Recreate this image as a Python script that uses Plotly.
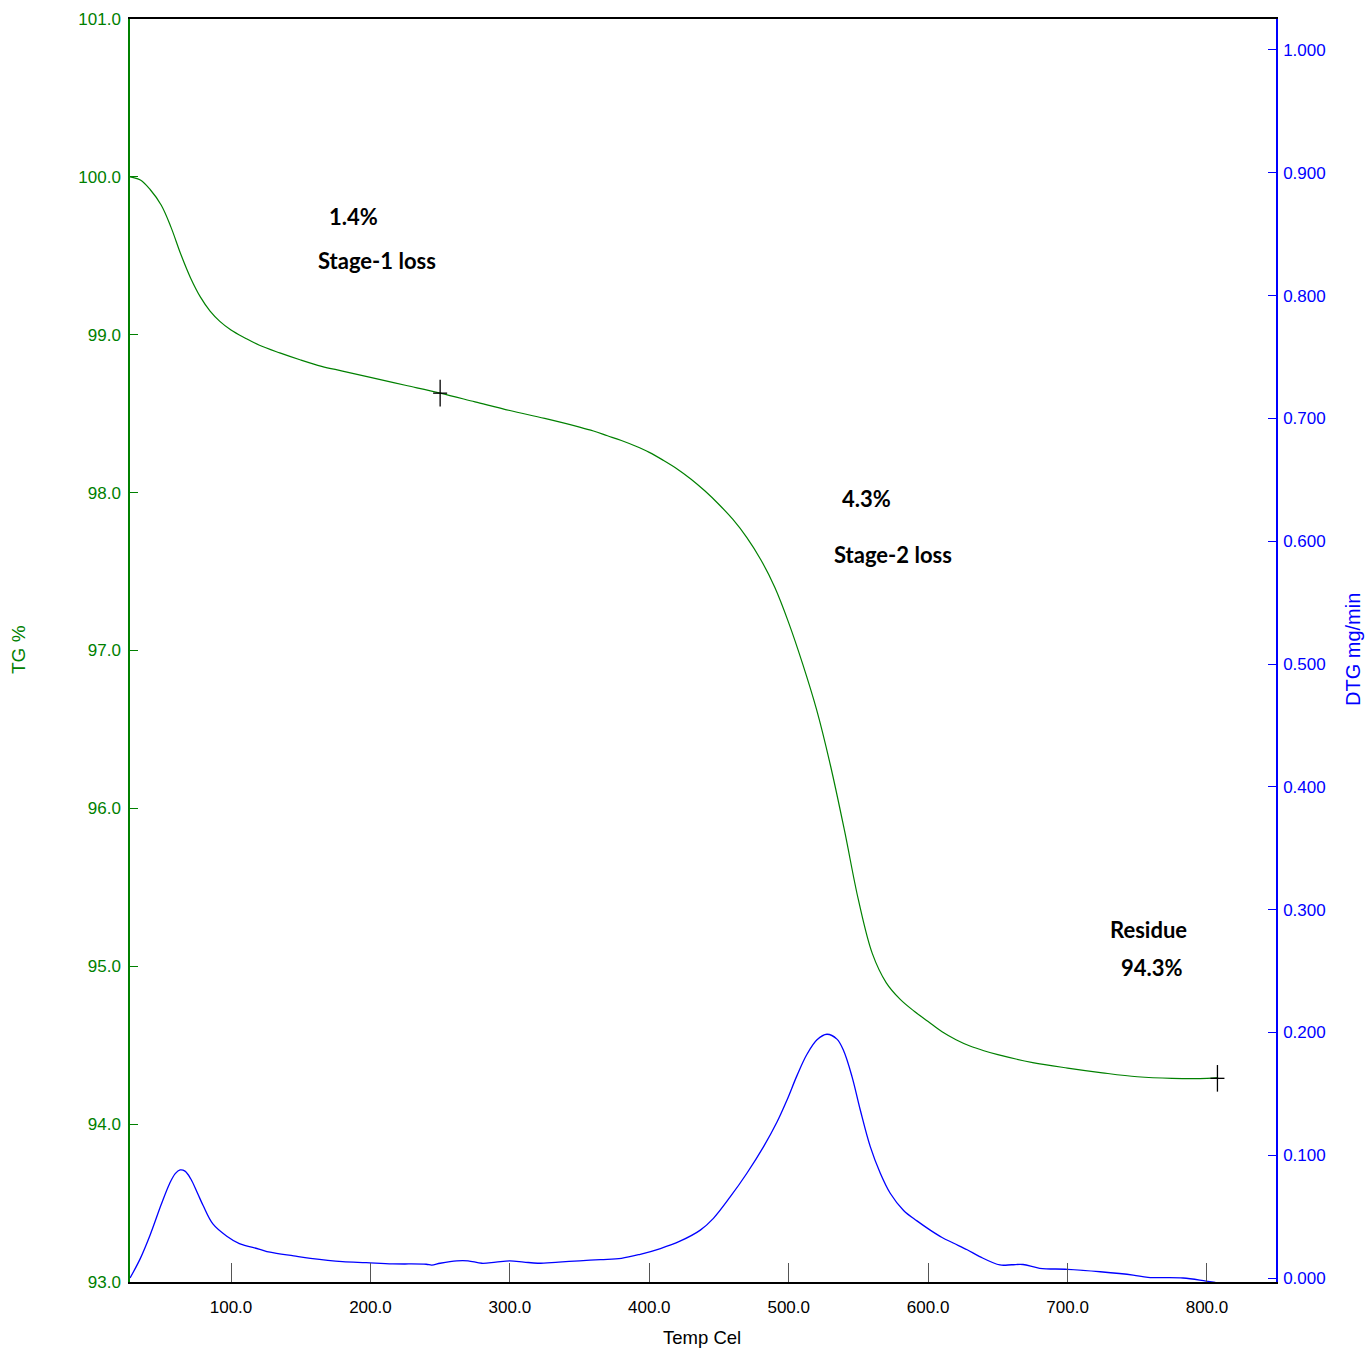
import plotly.graph_objects as go

# ---------------- data ----------------
tg_temp = [27.6, 35, 42, 50, 57, 64, 71, 78, 85, 92, 100, 110, 120, 135, 150, 165, 180, 200,
           225, 250, 275, 300, 325, 350, 360, 370, 380, 390, 400, 410, 420, 430, 440, 450,
           460, 470, 480, 490, 500, 510, 520, 530, 540, 550, 560, 570, 580, 590, 600, 610,
           620, 630, 640, 650, 675, 700, 725, 750, 775, 800, 808]
tg_pct = [100.0, 99.98, 99.92, 99.82, 99.68, 99.51, 99.36, 99.24, 99.15, 99.085, 99.03, 98.98,
          98.935, 98.885, 98.84, 98.80, 98.77, 98.73, 98.68, 98.63, 98.575, 98.52, 98.47, 98.415,
          98.39, 98.36, 98.33, 98.295, 98.255, 98.205, 98.15, 98.085, 98.01, 97.925, 97.83,
          97.715, 97.575, 97.40, 97.175, 96.915, 96.625, 96.27, 95.86, 95.42, 95.08, 94.895,
          94.79, 94.715, 94.65, 94.585, 94.535, 94.495, 94.465, 94.44, 94.39, 94.355, 94.325,
          94.30, 94.29, 94.29, 94.295]

dtg_temp = [27.6, 35, 42, 50, 56, 60, 63.5, 67, 71, 76, 80, 87, 97, 106, 120, 128, 145, 157,
            180, 197, 216, 240, 244, 250, 262, 270, 280, 290, 300, 310, 320, 335, 350, 365,
            380, 393.5, 408, 422, 436.6, 446, 458, 470, 482, 491.6, 498.8, 506, 513, 520.3,
            527.4, 534.6, 539.4, 545.4, 551.3, 558.5, 565.7, 572.8, 582.4, 592, 601.5, 610,
            618, 628, 637, 651.5, 660, 668, 680, 700, 723.5, 747, 757.7, 782.8, 799.3, 806]
dtg_val = [0.0, 0.016, 0.035, 0.060, 0.077, 0.085, 0.088, 0.087, 0.081, 0.069, 0.059, 0.044,
           0.034, 0.028, 0.0236, 0.021, 0.018, 0.016, 0.0133, 0.0125, 0.0115, 0.0112, 0.0105,
           0.012, 0.014, 0.014, 0.012, 0.013, 0.014, 0.013, 0.012, 0.013, 0.014, 0.015, 0.016,
           0.0193, 0.024, 0.030, 0.039, 0.0486, 0.066, 0.0853, 0.107, 0.127, 0.145, 0.165,
           0.182, 0.194, 0.1985, 0.1945, 0.185, 0.164, 0.137, 0.107, 0.0853, 0.069, 0.055,
           0.0465, 0.039, 0.033, 0.0285, 0.023, 0.0174, 0.0106, 0.0108, 0.011, 0.0079, 0.0071,
           0.0051, 0.0024, 0.0005, 0.0, -0.0025, -0.0035]

marker_temp = [250, 807.5]
marker_tg = [98.63, 94.29]

x_ticks = [100, 200, 300, 400, 500, 600, 700, 800]
x_labels = ["100.0", "200.0", "300.0", "400.0", "500.0", "600.0", "700.0", "800.0"]
tg_ticks = [93, 94, 95, 96, 97, 98, 99, 100, 101]
tg_labels = ["93.0", "94.0", "95.0", "96.0", "97.0", "98.0", "99.0", "100.0", "101.0"]
dtg_ticks = [0.0, 0.1, 0.2, 0.3, 0.4, 0.5, 0.6, 0.7, 0.8, 0.9, 1.0]
dtg_labels = ["0.000", "0.100", "0.200", "0.300", "0.400", "0.500", "0.600", "0.700",
              "0.800", "0.900", "1.000"]

notes = [("1.4%", 188.2, 99.752), ("Stage-1 loss", 204.7, 99.473),
         ("4.3%", 556.1, 97.96), ("Stage-2 loss", 574.8, 97.605),
         ("Residue", 758.4, 95.23), ("94.3%", 760.6, 94.995)]

GREEN = "#008000"
BLUE = "#0000FF"
ARIAL = "Liberation Sans, Arial, sans-serif"
BOLDF = "Lato, Liberation Sans, sans-serif"

fig = go.Figure()
fig.add_trace(go.Scatter(x=tg_temp, y=tg_pct, mode="lines", line=dict(color=GREEN, width=1.2),
                         line_shape="spline", showlegend=False, yaxis="y"))
fig.add_trace(go.Scatter(x=dtg_temp, y=dtg_val, mode="lines", line=dict(color=BLUE, width=1.3),
                         line_shape="spline", showlegend=False, yaxis="y2"))
fig.add_trace(go.Scatter(x=marker_temp, y=marker_tg, mode="markers", showlegend=False,
                         marker=dict(symbol="line-ns", size=19, line=dict(color="black", width=1.3))))
fig.add_trace(go.Scatter(x=marker_temp, y=marker_tg, mode="markers", showlegend=False,
                         marker=dict(symbol="line-ew", size=10, line=dict(color="black", width=1.3))))

for txt, tx, ty in notes:
    fig.add_annotation(x=tx, y=ty, xref="x", yref="y", text="<b>" + txt + "</b>", showarrow=False,
                       xanchor="center", yanchor="middle",
                       font=dict(family=BOLDF, size=22, color="black"))

# free texts placed at page-pixel positions (converted to paper coords below)
free_texts = [("TG %", 18, 650, -90, GREEN, 19), ("DTG mg/min", 1353, 650, -90, BLUE, 20),
              ("Temp Cel", 702, 1337, 0, "black", 18.5)]
W, H = 1372, 1349
L, R, T, B = 130, 1276, 19, 1282   # plot area in page pixels
for txt, px, py, ang, col, sz in free_texts:
    fig.add_annotation(x=(px - L) / (R - L), y=(B - py) / (B - T), xref="paper", yref="paper",
                       text=txt, showarrow=False, textangle=ang, xanchor="center",
                       yanchor="middle", font=dict(family=ARIAL, size=sz, color=col))

fig.update_layout(
    width=W, height=H,
    margin=dict(l=L, r=W - R, t=T, b=H - B, pad=0, autoexpand=False),
    paper_bgcolor="white", plot_bgcolor="white",
    xaxis=dict(range=[27.56, 849.5], tickvals=x_ticks, ticktext=x_labels, ticks="inside",
               ticklen=19, tickcolor="#555", tickwidth=1.2, showgrid=False, zeroline=False,
               showline=True, linecolor="black", linewidth=1.5, mirror=True, automargin=False,
               tickfont=dict(family=ARIAL, size=17, color="black"), ticklabelstandoff=9),
    yaxis=dict(range=[93, 101], tickvals=tg_ticks, ticktext=tg_labels, ticks="inside",
               ticklen=8, tickcolor=GREEN, tickwidth=1.2, showgrid=False, zeroline=False,
               showline=True, linecolor=GREEN, linewidth=1.5, automargin=False,
               tickfont=dict(family=ARIAL, size=17, color=GREEN), ticklabelstandoff=4),
    yaxis2=dict(range=[-0.00326, 1.02524], tickvals=dtg_ticks, ticktext=dtg_labels,
                overlaying="y", side="right", ticks="inside", ticklen=8, tickcolor=BLUE,
                tickwidth=1.2, showgrid=False, zeroline=False, showline=True, linecolor=BLUE,
                linewidth=1.5, automargin=False,
                tickfont=dict(family=ARIAL, size=17, color=BLUE), ticklabelstandoff=2),
)

# remove the browser's default page margin so the figure fills the window exactly
fig.write_html("out.html", config={"displayModeBar": False},
               post_script="document.body.style.margin='0px';")
